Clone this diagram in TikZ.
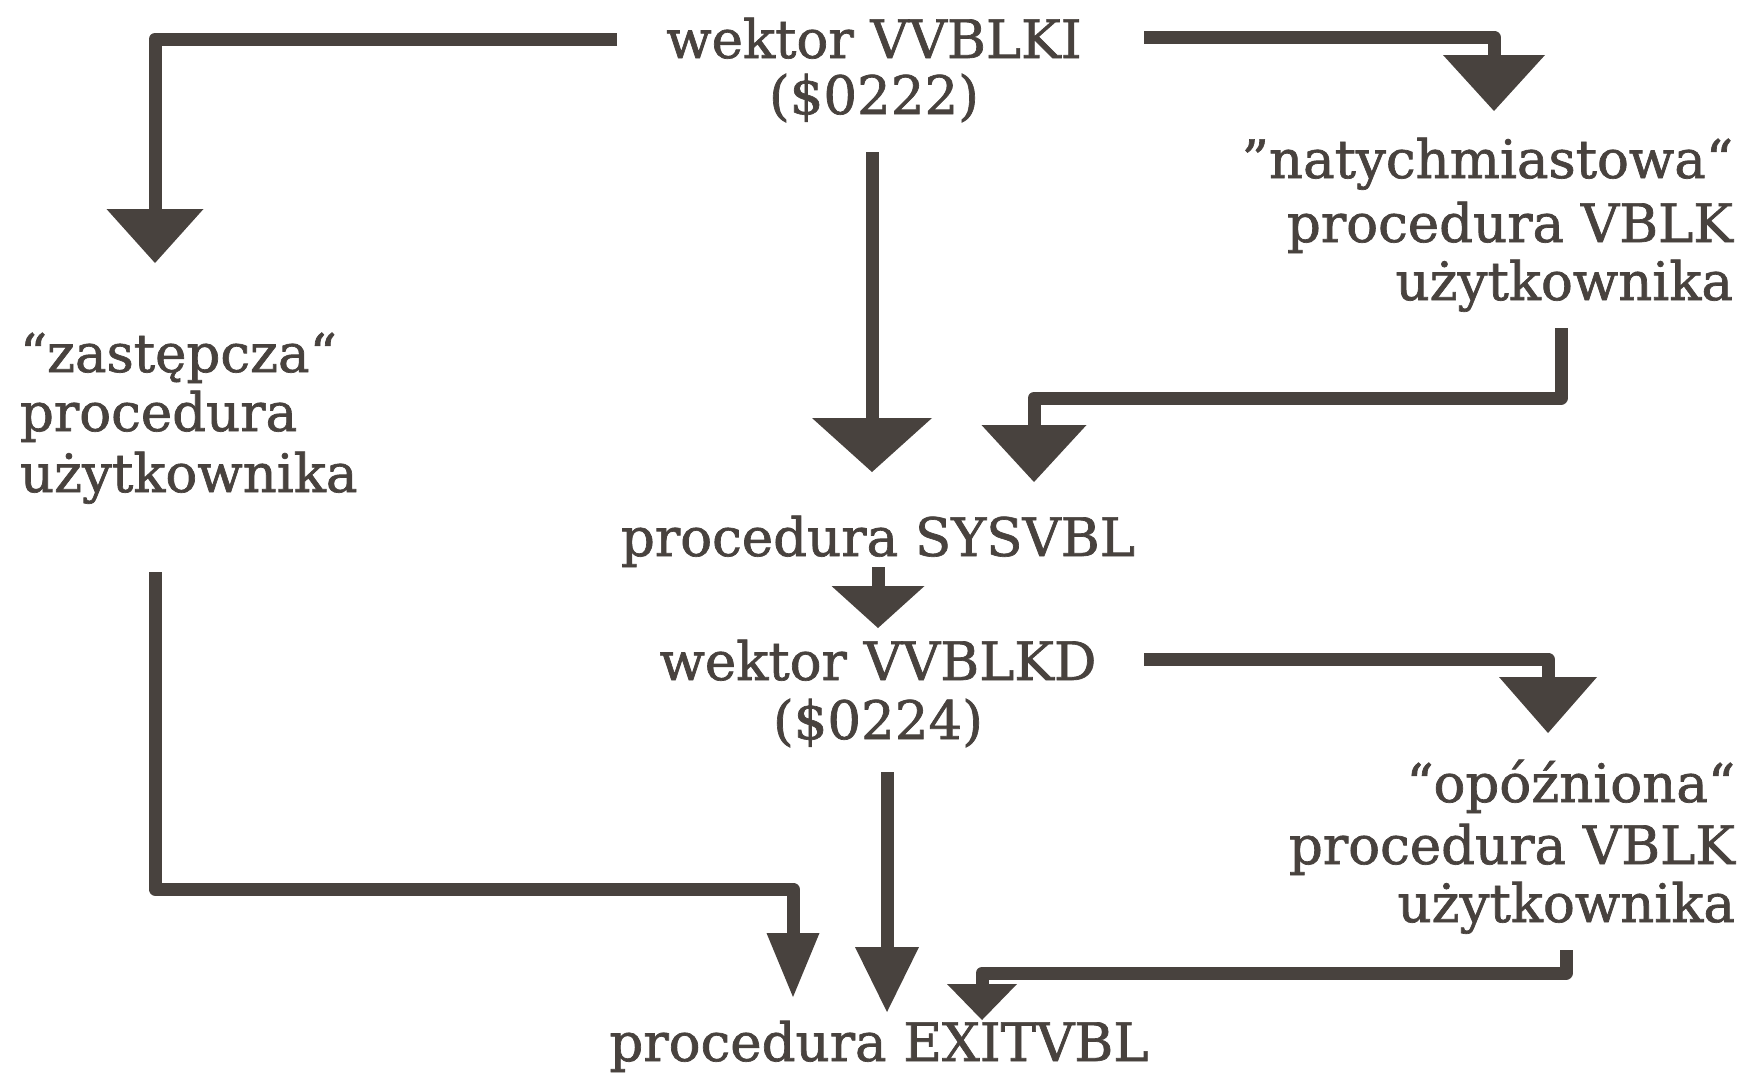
\documentclass[tikz,border=0pt]{standalone}
\usepackage{fontspec}
\setmainfont{DejaVu Serif}
\newfontfamily\inkfont{DejaVu Serif}[FakeBold=1.3]
\usetikzlibrary{arrows.meta}
\definecolor{ink}{RGB}{72,66,62}
\tikzset{
  txt/.style={inner sep=0pt, outer sep=0pt, text=ink, font=\inkfont\fontsize{53}{60}\selectfont},
  conn/.style={draw=ink, line width=13pt, line join=round, line cap=butt},
  tip/.style 2 args={-{Triangle[length=#1pt,width=#2pt,line width=0pt]}}
}
\begin{document}
\begin{tikzpicture}[x=1pt,y=-1pt]
\useasboundingbox (0,0) rectangle (1742,1080);
% texts
\node[txt,anchor=base] (vki1) at (874,58) {wektor VVBLKI};
\node[txt,anchor=base] (vki2) at (874,114) {(\$0222)};
\node[txt,anchor=base east] (nat1) at (1733,178) {”natychmiastowa“};
\node[txt,anchor=base east] (nat2) at (1733,242) {procedura VBLK};
\node[txt,anchor=base east] (nat3) at (1733,300) {użytkownika};
\node[txt,anchor=base west] (zas1) at (20,372) {“zastępcza“};
\node[txt,anchor=base west] (zas2) at (20,431) {procedura};
\node[txt,anchor=base west] (zas3) at (20,492) {użytkownika};
\node[txt,anchor=base] (sys) at (878,556) {procedura SYSVBL};
\node[txt,anchor=base] (vkd1) at (878,680) {wektor VVBLKD};
\node[txt,anchor=base] (vkd2) at (878,739) {(\$0224)};
\node[txt,anchor=base east] (opo1) at (1735,802) {“opóźniona“};
\node[txt,anchor=base east] (opo2) at (1735,864) {procedura VBLK};
\node[txt,anchor=base east] (opo3) at (1735,922) {użytkownika};
\node[txt,anchor=base] (exit) at (879,1061) {procedura EXITVBL};
% connector coordinates
\coordinate (a1) at (617,39);  \coordinate (a2) at (155,39);  \coordinate (a3) at (155,263);
\coordinate (b1) at (1144,37); \coordinate (b2) at (1494,37); \coordinate (b3) at (1494,111);
\coordinate (c1) at (872,152); \coordinate (c2) at (872,472);
\coordinate (d1) at (1561,328); \coordinate (d2) at (1561,398); \coordinate (d3) at (1034,398); \coordinate (d4) at (1034,482);
\coordinate (e1) at (878,567); \coordinate (e2) at (878,628);
\coordinate (f1) at (1144,659); \coordinate (f2) at (1548,659); \coordinate (f3) at (1548,733);
\coordinate (g1) at (887,772); \coordinate (g2) at (887,1012);
\coordinate (h1) at (155,572); \coordinate (h2) at (155,889); \coordinate (h3) at (793,889); \coordinate (h4) at (793,997);
\coordinate (i1) at (1566,950); \coordinate (i2) at (1566,973); \coordinate (i3) at (982,973); \coordinate (i4) at (982,1020);
% connectors
\draw[conn,tip={54}{97}] (a1) -- (a2) -- (a3);
\draw[conn,tip={56}{102}] (b1) -- (b2) -- (b3);
\draw[conn,tip={54}{120}] (c1) -- (c2);
\draw[conn,tip={57}{105}] (d1) -- (d2) -- (d3) -- (d4);
\draw[conn,tip={42}{93}] (e1) -- (e2);
\draw[conn,tip={56}{98}] (f1) -- (f2) -- (f3);
\draw[conn,tip={65}{64}] (g1) -- (g2);
\draw[conn,tip={64}{53}] (h1) -- (h2) -- (h3) -- (h4);
\draw[conn,tip={36}{70}] (i1) -- (i2) -- (i3) -- (i4);
\end{tikzpicture}
\end{document}
